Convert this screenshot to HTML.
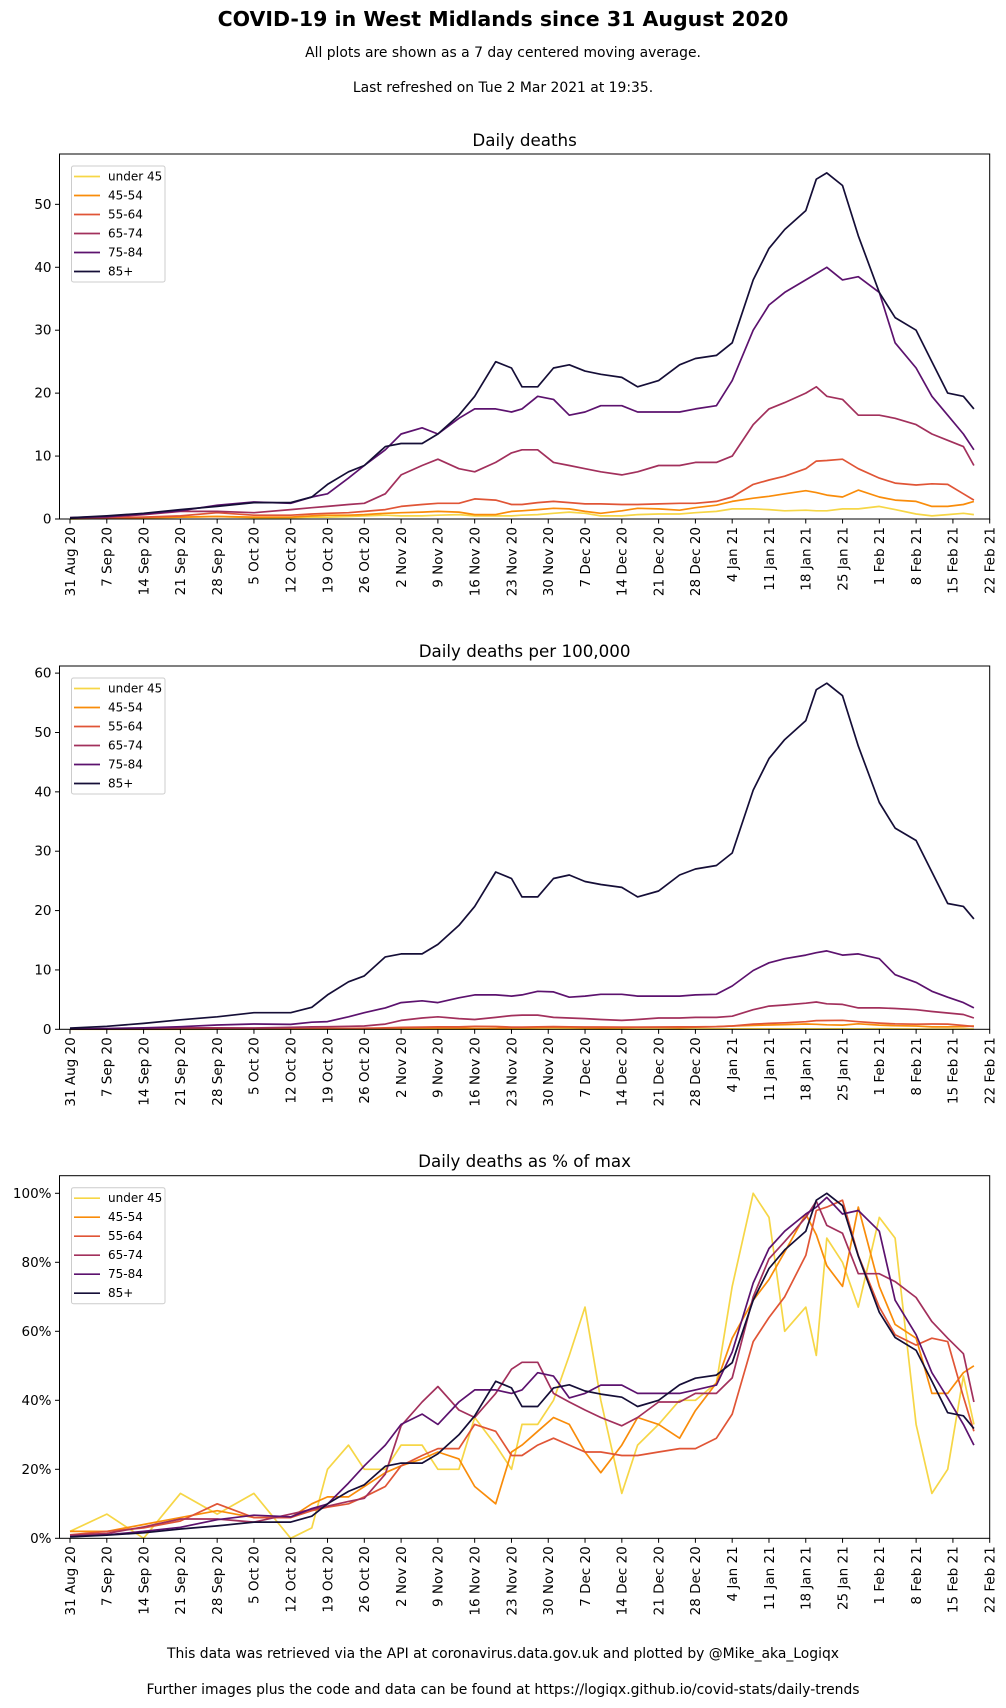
<!DOCTYPE html>
<html><head><meta charset="utf-8"><style>
body{margin:0;background:#fff;}
svg{display:block;font-family:"DejaVu Sans","Liberation Sans",sans-serif;}
</style></head><body>
<svg id="fig" width="1006" height="1708" viewBox="0 0 1006 1708">
<text x="503" y="26" text-anchor="middle" font-size="20.5" font-weight="bold" fill="#000">COVID-19 in West Midlands since 31 August 2020</text>
<text x="503" y="57" text-anchor="middle" font-size="13.9" fill="#000">All plots are shown as a 7 day centered moving average.</text>
<text x="503" y="92" text-anchor="middle" font-size="13.9" fill="#000">Last refreshed on Tue 2 Mar 2021 at 19:35.</text>
<text x="503" y="1658" text-anchor="middle" font-size="13.9" fill="#000">This data was retrieved via the API at coronavirus.data.gov.uk and plotted by @Mike_aka_Logiqx</text>
<text x="503" y="1694" text-anchor="middle" font-size="13.9" fill="#000">Further images plus the code and data can be found at https://logiqx.github.io/covid-stats/daily-trends</text>
</svg>
<script>
const days=[0,7,14,21,28,35,42,46,49,53,56,60,63,67,70,74,77,81,84,86,89,92,95,98,101,105,108,112,116,119,123,126,130,133,136,140,142,144,147,150,154,157,161,164,167,170,172];
const seriesNames=["under 45","45-54","55-64","65-74","75-84","85+"];
const seriesColors=["#f6d646","#f98c0a","#e05536","#a2305c","#5c126e","#150e37"];
const tickDays=[0,7,14,21,28,35,42,49,56,63,70,77,84,91,98,105,112,119,126,133,140,147,154,161,168,175];
const tickLabels=["31 Aug 20","7 Sep 20","14 Sep 20","21 Sep 20","28 Sep 20","5 Oct 20","12 Oct 20","19 Oct 20","26 Oct 20","2 Nov 20","9 Nov 20","16 Nov 20","23 Nov 20","30 Nov 20","7 Dec 20","14 Dec 20","21 Dec 20","28 Dec 20","4 Jan 21","11 Jan 21","18 Jan 21","25 Jan 21","1 Feb 21","8 Feb 21","15 Feb 21","22 Feb 21"];
const d_u45=[0,0.1,0.2,0.3,0.4,0.2,0.2,0.3,0.3,0.4,0.5,0.6,0.5,0.5,0.6,0.7,0.5,0.5,0.5,0.6,0.7,0.9,1.1,0.9,0.5,0.5,0.7,0.8,0.8,1.0,1.2,1.6,1.6,1.5,1.3,1.4,1.3,1.3,1.6,1.6,2.0,1.5,0.8,0.5,0.7,0.9,0.7];
const d_45=[0.1,0.1,0.2,0.3,0.4,0.3,0.3,0.5,0.6,0.6,0.7,0.9,1.0,1.1,1.2,1.1,0.7,0.7,1.2,1.3,1.5,1.7,1.6,1.2,0.9,1.3,1.7,1.6,1.4,1.8,2.2,2.8,3.3,3.6,4.0,4.5,4.2,3.8,3.5,4.6,3.5,3.0,2.8,2.0,2.0,2.3,2.8];
const d_55=[0.1,0.2,0.3,0.5,1,0.6,0.6,0.8,0.9,1.0,1.2,1.5,2,2.3,2.5,2.5,3.2,3.0,2.3,2.3,2.6,2.8,2.6,2.4,2.4,2.3,2.3,2.4,2.5,2.5,2.8,3.5,5.5,6.2,6.8,8,9.2,9.3,9.5,8,6.5,5.7,5.4,5.6,5.5,4,3.0];
const d_65=[0.2,0.3,0.7,1.2,1.2,1.0,1.5,1.8,2.0,2.3,2.5,4,7,8.5,9.5,8,7.5,9,10.5,11,11,9,8.5,8,7.5,7,7.5,8.5,8.5,9,9,10,15,17.5,18.5,20,21,19.5,19,16.5,16.5,16,15,13.5,12.5,11.5,8.5];
const d_75=[0.2,0.4,0.8,1.3,2.2,2.7,2.5,3.5,4,6.5,8.5,11,13.5,14.5,13.5,16,17.5,17.5,17,17.5,19.5,19,16.5,17,18,18,17,17,17,17.5,18,22,30,34,36,38,39,40,38,38.5,36,28,24,19.5,16.5,13.5,11];
const d_85=[0.2,0.5,0.9,1.5,2.0,2.6,2.6,3.5,5.5,7.5,8.5,11.5,12,12,13.5,16.5,19.5,25,24,21,21,24,24.5,23.5,23,22.5,21,22,24.5,25.5,26,28,38,43,46,49,54,55,53,45,36,32,30,25,20,19.5,17.5];
const p_u45=[0,0,0,0,0.02,0.01,0.01,0.02,0.02,0.02,0.03,0.03,0.03,0.03,0.03,0.04,0.03,0.03,0.03,0.03,0.04,0.05,0.06,0.05,0.03,0.03,0.04,0.04,0.04,0.05,0.06,0.08,0.08,0.08,0.07,0.07,0.07,0.07,0.08,0.08,0.1,0.08,0.04,0.03,0.04,0.05,0.04];
const p_45=[0.02,0.02,0.04,0.06,0.08,0.06,0.06,0.1,0.12,0.12,0.14,0.18,0.2,0.22,0.24,0.22,0.14,0.14,0.24,0.26,0.3,0.34,0.32,0.24,0.18,0.26,0.34,0.32,0.28,0.36,0.44,0.56,0.66,0.72,0.8,0.9,0.84,0.76,0.7,0.92,0.7,0.6,0.56,0.4,0.4,0.46,0.56];
const p_55=[0.02,0.03,0.05,0.08,0.16,0.1,0.1,0.13,0.14,0.16,0.19,0.24,0.32,0.37,0.4,0.4,0.51,0.48,0.37,0.37,0.42,0.45,0.42,0.38,0.38,0.37,0.37,0.38,0.4,0.4,0.45,0.56,0.88,0.99,1.09,1.28,1.47,1.49,1.52,1.28,1.04,0.91,0.86,0.9,0.88,0.64,0.48];
const p_65=[0.04,0.07,0.15,0.26,0.26,0.22,0.33,0.4,0.44,0.5,0.55,0.88,1.5,1.9,2.1,1.8,1.65,2.0,2.3,2.4,2.4,2.0,1.9,1.8,1.65,1.5,1.65,1.9,1.9,2.0,2.0,2.2,3.3,3.9,4.1,4.4,4.6,4.3,4.2,3.6,3.6,3.5,3.3,3.0,2.75,2.5,1.9];
const p_75=[0.07,0.13,0.26,0.43,0.73,0.9,0.83,1.2,1.3,2.1,2.8,3.6,4.5,4.8,4.5,5.3,5.8,5.8,5.6,5.8,6.4,6.3,5.4,5.6,5.9,5.9,5.6,5.6,5.6,5.8,5.9,7.3,9.9,11.2,11.9,12.5,12.9,13.2,12.5,12.7,11.9,9.2,7.9,6.4,5.4,4.5,3.6];
const p_85=[0.2,0.5,1.0,1.6,2.1,2.8,2.8,3.7,5.8,8,9,12.2,12.7,12.7,14.3,17.5,20.7,26.5,25.4,22.3,22.3,25.4,26,24.9,24.4,23.9,22.3,23.3,26,27,27.6,29.7,40.3,45.6,48.8,52,57.2,58.3,56.2,47.7,38.2,33.9,31.8,26.5,21.2,20.7,18.6];
const m_u45=[2,7,0,13,7,13,0,3,20,27,20,20,27,27,20,20,35,27,20,33,33,40,53,67,40,13,27,33,40,40,45,73,100,93,60,67,53,87,80,67,93,87,33,13,20,47,33];
const m_45=[2,2,4,6,8,6,6,10,12,12,15,19,21,23,25,23,15,10,25,27,31,35,33,25,19,27,35,33,29,37,45,58,69,75,83,94,88,79,73,96,73,62,58,42,42,48,50];
const m_55=[1,2,3,5,10,6,6,8,9,10,12,15,21,24,26,26,33,31,24,24,27,29,27,25,25,24,24,25,26,26,29,36,57,64,70,82,95,96,98,82,67,59,56,58,57,41,31];
const m_65=[0.9,1.4,3.3,5.6,5.6,4.7,7,8.4,9.3,10.7,11.6,18.6,32.6,39.5,44,37.2,35,42,49,51,51,42,39.5,37.2,35,32.6,35,39.5,39.5,42,42,46.5,70,81,86,93,97.7,90.7,88.4,76.7,76.7,74.4,69.8,62.8,58,53.5,39.5];
const m_75=[0.5,1,2,3.2,5.4,6.7,6.2,8.6,9.9,16,21,27,33,36,33,39.5,43,43,42,43,48,47,40.7,42,44.4,44.4,42,42,42,43,44.4,54,74,84,89,94,96,98.8,94,95,89,69,59,48,40.7,33,27];
const m_85=[0.4,0.9,1.6,2.7,3.6,4.7,4.7,6.4,10,13.6,15.5,20.9,21.8,21.8,24.5,30,35.5,45.5,43.6,38.2,38.2,43.6,44.5,42.7,41.8,40.9,38.2,40,44.5,46.4,47.3,50.9,69,78.2,83.6,89,98,100,96.4,81.8,65.5,58.2,54.5,45.5,36.4,35.5,31.8];
const yTicks1=[0,10,20,30,40,50];
const yTicks2=[0,10,20,30,40,50,60];
const yTicks3=[0,20,40,60,80,100];

const NS="http://www.w3.org/2000/svg";
const svg=document.getElementById('fig');
function mk(tag,attrs,parent){const e=document.createElementNS(NS,tag);for(const k in attrs)e.setAttribute(k,attrs[k]);(parent||svg).appendChild(e);return e;}

function chart(cfg){
  const L=59.5,R=989.7,T=cfg.top,B=cfg.bottom;
  const g=mk('g',{});
  
  
  const xs=d=>L+(d+2)*(R-L)/177;
  const ys=v=>B-(v-0)*(B-T)/cfg.ymax;
  const title=mk('text',{x:(L+R)/2,y:cfg.titleY,'text-anchor':'middle','font-size':16.7,fill:'#000'},g);
  title.textContent=cfg.title;
  
  
  cfg.series.forEach((arr,i)=>{
    const pts=arr.map((v,j)=>xs(days[j]).toFixed(1)+','+ys(v).toFixed(1)).join(' ');
    const pl=mk('polyline',{points:pts,fill:'none',stroke:seriesColors[i],'stroke-width':1.7,'stroke-linejoin':'round'},g);
    
    
  });
  const fr=mk('rect',{x:L,y:T,width:R-L,height:B-T,fill:'none',stroke:'#000','stroke-width':1},g);
  
  
  cfg.yTicks.forEach(v=>{
    const y=ys(v);
    mk('line',{x1:L-4.5,x2:L,y1:y,y2:y,stroke:'#000','stroke-width':1},g);
    const t=mk('text',{x:L-8,y:y+4.5,'text-anchor':'end','font-size':13.5,fill:'#000'},g);
    t.textContent=v+(cfg.pct?'%':'');
    
    
  });
  tickDays.forEach((d,i)=>{
    const x=xs(d);
    mk('line',{x1:x,x2:x,y1:B,y2:B+4.5,stroke:'#000','stroke-width':1},g);
    const t=mk('text',{x:0,y:0,'text-anchor':'end','font-size':13.5,fill:'#000',transform:`translate(${x+4.8},${B+8}) rotate(-90)`},g);
    t.textContent=tickLabels[i];
    
    
  });
  const lg=mk('g',{},g);
  
  
  const ly=T+12;
  mk('rect',{x:71.5,y:ly,width:93.5,height:116,rx:2,fill:'#fff','fill-opacity':0.8,stroke:'#ccc','stroke-width':1},lg);
  seriesNames.forEach((n,i)=>{
    const yy=ly+10.5+i*19;
    const en=mk('g',{},lg);
    
    
    mk('line',{x1:74,x2:100,y1:yy,y2:yy,stroke:seriesColors[i],'stroke-width':1.7},en);
    const t=mk('text',{x:108,y:yy+4,'font-size':12,fill:'#000'},en);
    t.textContent=n;
  });
}
chart({name:'daily-deaths-chart',title:'Daily deaths',titleY:146,top:154,bottom:519,ymax:58,yTicks:yTicks1,series:[d_u45,d_45,d_55,d_65,d_75,d_85]});
chart({name:'deaths-per-100k-chart',title:'Daily deaths per 100,000',titleY:657,top:666,bottom:1029.3,ymax:61.2,yTicks:yTicks2,series:[p_u45,p_45,p_55,p_65,p_75,p_85]});
chart({name:'deaths-pct-max-chart',title:'Daily deaths as % of max',titleY:1167,top:1175.7,bottom:1538.3,ymax:105.1,yTicks:yTicks3,pct:true,series:[m_u45,m_45,m_55,m_65,m_75,m_85]});
</script>
</body></html>
